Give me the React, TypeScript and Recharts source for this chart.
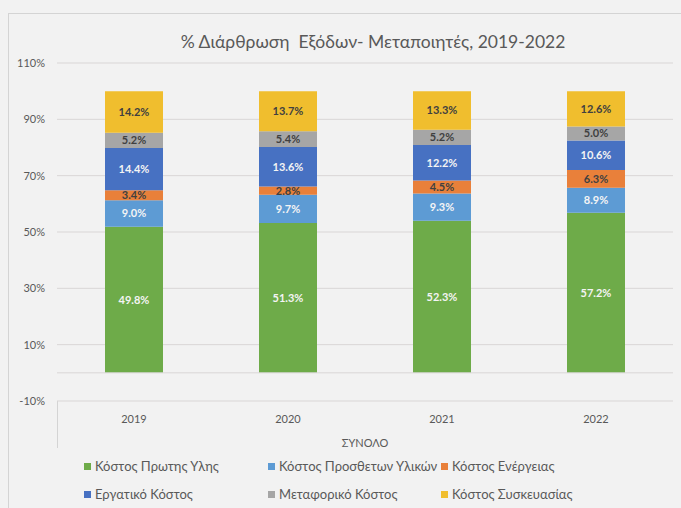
import React from 'react';
import { BarChart, Bar, XAxis, YAxis, CartesianGrid, ReferenceLine, LabelList } from 'recharts';

const years = ['2019', '2020', '2021', '2022'];
const rawMaterial = [49.8, 51.3, 52.3, 57.2];
const extraMaterials = [9.0, 9.7, 9.3, 8.9];
const energy = [3.4, 2.8, 4.5, 6.3];
const labour = [14.4, 13.6, 12.2, 10.6];
const transport = [5.2, 5.4, 5.2, 5.0];
const packaging = [14.2, 13.7, 13.3, 12.6];
const yTicks = [-10, 10, 30, 50, 70, 90, 110];

const SERIES = [
  { key: 'raw', name: 'Κόστος Πρωτης Υλης', values: rawMaterial, color: '#6EAB49', text: '#f4f4f4' },
  { key: 'extra', name: 'Κόστος Προσθετων Υλικών', values: extraMaterials, color: '#5D9BD4', text: '#f4f4f4' },
  { key: 'energy', name: 'Κόστος Ενέργειας', values: energy, color: '#E9803A', text: '#404040' },
  { key: 'labour', name: 'Εργατικό Κόστος', values: labour, color: '#4771C2', text: '#f4f4f4' },
  { key: 'transport', name: 'Μεταφορικό Κόστος', values: transport, color: '#A6A6A6', text: '#404040' },
  { key: 'packaging', name: 'Κόστος Συσκευασίας', values: packaging, color: '#F0BE2E', text: '#404040' },
];

// 100% stacked: each bar is scaled to its own total, labels keep the shown values
const data = years.map((year, i) => {
  const total = SERIES.reduce((sum, s) => sum + s.values[i], 0);
  const row: Record<string, string | number> = { year };
  SERIES.forEach((s) => {
    row[s.key] = s.values[i];
    row[s.key + 'Pct'] = (s.values[i] / total) * 100;
  });
  return row;
});

const FONT = 'Lato, "Noto Sans", sans-serif';
const GREY = '#595959';

// legend grid: 3 columns, 2 rows (same order as Excel)
const legendCols = [84, 268, 441];
const legendRows = [466, 494];

export default function App() {
  return (
    <div style={{ position: 'fixed', left: 0, top: 0, width: 681, height: 508, background: '#f2f2f2', fontFamily: FONT, overflow: 'hidden' }}>
      <div style={{ position: 'absolute', left: 8, top: 13, width: 700, height: 520, border: '1px solid #d4d4d4', boxSizing: 'border-box' }} />
      <div style={{ position: 'absolute', left: 0, width: 746, top: 31, textAlign: 'center', fontSize: 17.5, color: GREY, whiteSpace: 'pre' }}>
        {'% Διάρθρωση  Εξόδων- Μεταποιητές, 2019-2022'}
      </div>
      {/* category axis box */}
      <div style={{ position: 'absolute', left: 57, top: 401, width: 1, height: 47, background: '#d4d4d4' }} />
      <div style={{ position: 'absolute', left: 0, top: 0 }}>
        <BarChart
          width={681}
          height={460}
          data={data}
          barSize={58}
          margin={{ top: 63, right: 8, bottom: 0, left: 0 }}
          style={{ fontFamily: FONT }}
        >
          <CartesianGrid vertical={false} stroke="#d9d6d6" />
          <ReferenceLine y={0} stroke="#d9d6d6" />
          <XAxis
            dataKey="year"
            height={59}
            axisLine={false}
            tickLine={false}
            tickSize={0}
            tickMargin={14}
            tick={{ fill: GREY, fontSize: 11 }}
            label={{ value: 'ΣΥΝΟΛΟ', position: 'insideBottom', offset: 13, fill: GREY, fontSize: 11 }}
          />
          <YAxis
            width={57}
            domain={[-10, 110]}
            ticks={yTicks}
            axisLine={false}
            tickLine={false}
            tickSize={0}
            tickMargin={12}
            tick={{ fill: GREY, fontSize: 11 }}
            tickFormatter={(v: number) => `${v}%`}
          />
          {SERIES.map((s) => (
            <Bar key={s.key} dataKey={s.key + 'Pct'} name={s.name} stackId="a" fill={s.color} isAnimationActive={false}>
              <LabelList
                dataKey={s.key}
                position="center"
                fill={s.text}
                fontSize={11}
                fontWeight="bold"
                formatter={(v: number) => `${Number(v).toFixed(1)}%`}
              />
            </Bar>
          ))}
        </BarChart>
      </div>
      {SERIES.map((s, i) => (
        <div
          key={s.key}
          style={{
            position: 'absolute',
            left: legendCols[i % 3],
            top: legendRows[Math.floor(i / 3)] - 9,
            height: 18,
            display: 'flex',
            alignItems: 'center',
            fontSize: 13,
            color: GREY,
            whiteSpace: 'nowrap',
          }}
        >
          <span style={{ display: 'inline-block', width: 7, height: 7, background: s.color, marginRight: 4 }} />
          {s.name}
        </div>
      ))}
    </div>
  );
}
